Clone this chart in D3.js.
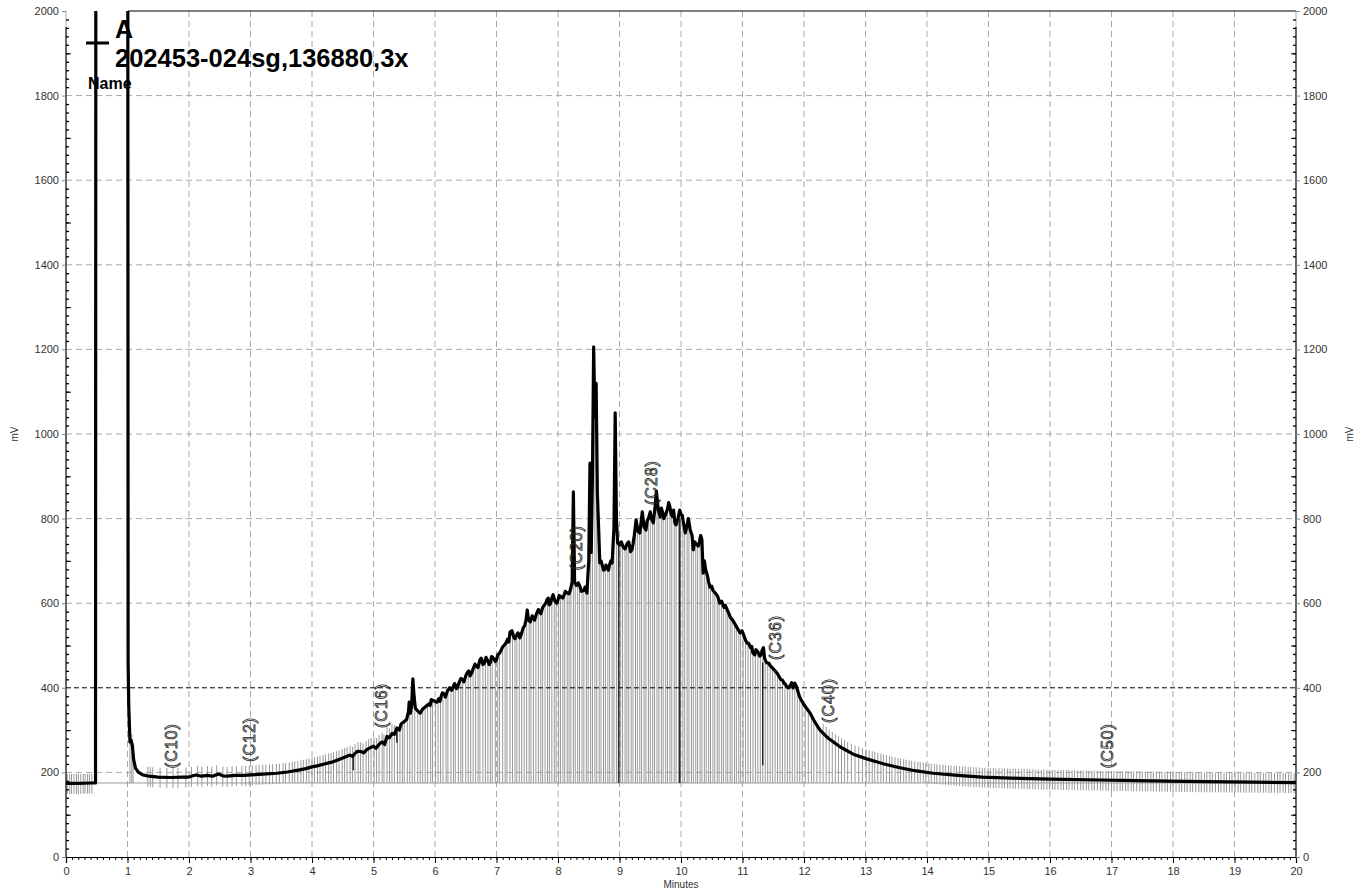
<!DOCTYPE html>
<html><head><meta charset="utf-8">
<script src="https://cdn.jsdelivr.net/npm/d3@7"></script>
<style>body{margin:0;background:#fff}svg{display:block}</style>
</head><body>
<script>
// ---- data ----
const traceTime = [0.00,0.20,0.40,0.48,0.485,1.005,1.01,1.02,1.04,1.06,1.08,1.10,1.13,1.18,1.25,1.35,1.5,1.7,1.9,2.0,2.06,2.12,2.2,2.3,2.38,2.48,2.55,2.62,2.75,2.9,3.0,3.2,3.43,3.6,3.8,3.9,4.0,4.1,4.2,4.34,4.45,4.55,4.62,4.7,4.8,4.89,5.0,5.1,5.22,5.3,5.38,5.45,5.5,5.54,5.57,5.58,5.6,5.62,5.64,5.66,5.68,5.72,5.76,5.8,5.85,5.9,5.97,6.03,6.1,6.15,6.2,6.24,6.3,6.35,6.4,6.45,6.52,6.57,6.62,6.67,6.73,6.78,6.85,6.9,6.95,7.0,7.05,7.1,7.15,7.22,7.28,7.33,7.38,7.43,7.48,7.5,7.52,7.55,7.6,7.65,7.7,7.75,7.8,7.82,7.86,7.9,7.95,8.0,8.05,8.1,8.15,8.2,8.23,8.25,8.27,8.3,8.36,8.42,8.47,8.5,8.52,8.54,8.56,8.58,8.6,8.62,8.64,8.66,8.68,8.72,8.76,8.8,8.84,8.88,8.91,8.93,8.95,8.97,9.0,9.06,9.12,9.2,9.24,9.27,9.3,9.33,9.37,9.4,9.43,9.47,9.5,9.55,9.58,9.6,9.63,9.66,9.7,9.75,9.8,9.82,9.86,9.9,9.95,10.0,10.02,10.07,10.1,10.15,10.2,10.25,10.3,10.34,10.36,10.4,10.47,10.52,10.58,10.63,10.7,10.75,10.8,10.88,10.96,11.02,11.08,11.13,11.17,11.22,11.28,11.32,11.36,11.4,11.45,11.5,11.56,11.62,11.68,11.72,11.78,11.85,11.9,11.93,12.0,12.1,12.18,12.26,12.4,12.59,12.8,13.02,13.3,13.56,13.8,14.1,14.5,14.9,15.5,16.0,16.8,17.63,18.5,19.3,20.0];
const traceMV = [174,174,175,175,2100,2100,460,360,272,276,262,230,210,200,194,191,189,188,189,189,192,194,191,193,191,196,192,191,193,193,194,196,198,201,206,209,213,216,220,225,231,237,241,245,249,254,262,268,285,292,305,315,320,326,345,366,340,360,421,380,352,345,340,350,356,362,370,366,380,385,392,400,404,398,415,420,435,428,445,452,466,455,466,460,470,466,482,497,505,532,520,525,518,540,560,584,560,556,565,575,580,590,600,608,596,612,605,608,615,620,624,631,650,863,650,642,638,630,624,700,931,720,900,1206,1040,1120,860,780,695,690,680,683,692,695,780,1050,800,742,738,733,740,726,760,797,770,766,816,780,773,800,816,790,830,865,820,804,815,810,838,827,805,790,800,810,808,766,785,773,726,740,745,750,671,680,638,630,620,600,590,585,567,550,530,525,505,495,482,490,475,489,470,459,452,445,435,420,410,402,406,411,392,378,360,340,318,300,280,260,243,232,220,211,204,198,193,189,186,184,182,180,178,177,176];
// extra detail points
const detailTime = [4.66,4.74,4.84,4.94,5.04,5.14,5.18,5.26,5.34,5.42,5.92,5.94,6.06,6.08,6.12,6.17,6.22,6.27,6.32,6.37,6.42,6.47,6.5,6.55,6.6,6.65,6.7,6.75,6.8,6.83,6.88,6.92,6.98,7.02,7.08,7.12,7.18,7.2,7.25,7.3,7.35,7.4,7.46,7.58,7.62,7.68,7.72,7.78,7.84,7.88,7.92,7.98,8.02,8.08,8.12,8.18,8.33,8.38,8.44,8.7,8.74,8.78,8.82,8.86,9.03,9.09,9.15,9.18,9.22,9.35,9.45,9.52,9.68,9.72,9.78,9.84,9.88,9.92,9.98,10.04,10.12,10.18,10.22,10.28,10.32,10.38,10.43,10.45,10.5,10.55,10.6,10.66,10.72,10.78,10.84,10.92,10.99,11.05,11.1,11.15,11.2,11.25,11.3,11.34,11.38,11.43,11.48,11.53,11.59,11.65,11.7,11.75,11.8,11.82,11.88,11.96,12.05];
const detailMV   = [238,250,246,258,257,272,266,282,290,300,358,372,374,368,388,378,396,394,410,404,422,414,428,440,436,456,448,470,458,472,455,474,462,478,490,500,515,508,535,516,530,525,548,570,560,585,575,596,612,600,620,600,618,612,628,622,648,628,638,700,678,690,678,700,745,728,745,722,740,790,795,800,825,800,822,810,820,785,820,790,800,760,745,735,760,700,665,650,640,625,615,605,595,575,560,540,535,512,505,498,478,485,478,495,462,458,448,440,428,418,408,400,412,400,402,370,350];

const dropA = [0.02,0.06,0.09,0.13,0.17,0.2,0.24,0.28,0.31,0.35,0.38,0.42];
const dropB = [1.04,1.07,1.09,1.33,1.37,1.41,1.53,1.64,1.74,1.82,1.95,2.04,2.14,2.21,2.3,2.37,2.45,2.55,2.62,2.7,2.77,2.86,2.92,2.98];
const dropC = [3.03,3.09,3.14,3.2,3.25,3.31,3.36,3.42,3.47,3.53,3.57,3.63,3.68,3.72,3.77,3.82,3.86,3.91,3.95,4.0,4.04,4.09,4.13,4.18,4.22,4.27,4.31,4.35,4.4,4.44,4.49,4.53,4.57,4.62,4.66,4.7,4.75,4.79,4.83,4.88,4.92,4.96];
const dropD = [5.01,5.05,5.09,5.14,5.17,5.22,5.26,5.3,5.34,5.39,5.43,5.47,5.5,5.55,5.59,5.63,5.67,5.72,5.76,5.8,5.84,5.88,5.93,5.96,6.01,6.05,6.09,6.13,6.18,6.21,6.26,6.3,6.33,6.38,6.42,6.45,6.5,6.54,6.58,6.62,6.66,6.7,6.73,6.78,6.82,6.86,6.9,6.93,6.98,7.02,7.05,7.1,7.14,7.17,7.22,7.26,7.3,7.33,7.37,7.41,7.45,7.49,7.53,7.56,7.6,7.64,7.68,7.72,7.75,7.79,7.83,7.86,7.9,7.94,7.97];
const dropE = [8.01,8.04,8.08,8.11,8.15,8.18,8.21,8.25,8.28,8.32,8.35,8.39,8.42,8.46,8.49,8.53,8.56,8.6,8.63,8.67,8.7,8.74,8.77,8.81,8.84,8.88,8.91,8.95,8.98,9.02,9.05,9.09,9.12,9.15,9.19,9.22,9.26,9.29,9.33,9.36,9.4,9.43,9.47,9.5,9.54,9.57,9.61,9.64,9.68,9.71,9.75,9.78,9.82,9.85,9.89,9.92,9.96,9.99,10.03,10.06,10.1,10.13,10.17,10.2,10.24,10.27,10.31,10.34,10.38,10.41,10.45,10.48,10.52,10.55,10.59,10.62,10.66,10.69,10.73,10.76,10.8,10.83,10.87,10.9,10.94,10.97];
const dropF = [11.01,11.05,11.09,11.13,11.17,11.21,11.25,11.29,11.33,11.37,11.41,11.45,11.49,11.53,11.57,11.61,11.65,11.69,11.73,11.77,11.81,11.85,11.89,11.93,11.97,12.02,12.07,12.12,12.16,12.21,12.26,12.31,12.36,12.41,12.46,12.51,12.56,12.61,12.66,12.71,12.77,12.83,12.89,12.95];
const dropG = [13.01,13.06,13.11,13.15,13.2,13.25,13.29,13.34,13.39,13.43,13.48,13.53,13.57,13.62,13.66,13.71,13.75,13.8,13.85,13.89,13.94,13.98,14.03,14.07,14.12,14.16,14.21,14.26,14.3,14.35,14.39,14.44,14.48,14.53,14.58,14.62,14.67,14.71,14.76,14.8,14.85,14.9,14.94,14.99,15.03,15.08,15.12,15.17,15.22,15.26,15.31,15.35,15.4,15.44,15.49,15.54,15.58,15.63,15.67,15.72,15.76,15.81,15.86,15.9,15.95,15.99,16.04,16.08,16.13,16.18,16.22,16.27,16.31,16.36,16.4,16.45,16.5,16.54,16.59,16.63,16.68,16.72,16.77,16.82,16.86,16.91,16.95,17.0,17.04,17.09,17.14,17.18,17.23,17.27,17.32,17.36,17.41,17.46,17.5,17.55,17.59,17.64,17.68,17.73,17.78,17.82,17.87,17.91,17.96,18.0,18.05,18.1,18.14,18.19,18.23,18.28,18.32,18.37,18.42,18.46,18.51,18.55,18.6,18.64,18.69,18.74,18.78,18.83,18.87,18.92,18.96,19.01,19.06,19.1,19.15,19.19,19.24,19.28,19.33,19.38,19.42,19.47,19.51,19.56,19.6,19.65,19.7,19.74,19.79,19.83,19.88,19.92,19.97];

const blackTime = [4.67,5.38,8.99,9.98,11.33];
const blackLo   = [205,270,175,175,217];
const blackHi   = [241,300,735,800,460];

const peakNames = ["(C10)","(C12)","(C16)","(C20)","(C28)","(C36)","(C40)","(C50)"];
const peakTime  = [1.72,2.99,5.14,8.31,9.53,11.54,12.41,16.94];
const peakMV    = [210,225,305,678,832,466,317,210];

const baselineMV = 175;
const yTicks = [0,200,400,600,800,1000,1200,1400,1600,1800,2000];
const xTicks = [0,1,2,3,4,5,6,7,8,9,10,11,12,13,14,15,16,17,18,19,20];
const titleLines = ["A","202453-024sg,136880,3x"];
const nameLabel = "Name";

// ---- drawing ----
const W=1365,H=896;
const L=66,R=1296,T=11,B=857;
const x=d3.scaleLinear().domain([0,20]).range([L,R]);
const y=d3.scaleLinear().domain([0,2000]).range([B,T]);
const svg=d3.select("body").append("svg").attr("width",W).attr("height",H)
  .style("font-family","'Liberation Sans',Arial,sans-serif");

svg.append("defs").append("clipPath").attr("id","clip")
  .append("rect").attr("x",L).attr("y",T).attr("width",R-L).attr("height",B-T);

// grid
const g=svg.append("g");
g.selectAll(".vg").data(xTicks.filter(d=>d>0&&d<20)).join("line")
  .attr("x1",d=>x(d)).attr("x2",d=>x(d)).attr("y1",T).attr("y2",B)
  .attr("stroke","#a8a8a8").attr("stroke-dasharray","6,4");
g.selectAll(".hg").data(yTicks.filter(d=>d>0&&d<2000&&d!==400)).join("line")
  .attr("x1",L).attr("x2",R).attr("y1",d=>y(d)).attr("y2",d=>y(d))
  .attr("stroke","#a8a8a8").attr("stroke-dasharray","6,4");
g.append("line").attr("x1",L).attr("x2",R).attr("y1",y(baselineMV)).attr("y2",y(baselineMV))
  .attr("stroke","#999").attr("stroke-width",1);

// trace (main + detail points, merged in time order)
const trace=traceTime.map((t,i)=>({t,v:traceMV[i]}))
  .concat(detailTime.map((t,i)=>({t,v:detailMV[i]})))
  .sort((a,b)=>a.t-b.t);
const bis=d3.bisector(d=>d.t).left;
function traceAt(t){
  let i=bis(trace,t); if(i<=0) return trace[0].v; if(i>=trace.length) return trace[trace.length-1].v;
  const a=trace[i-1],b=trace[i]; return a.v+(b.v-a.v)*(t-a.t)/(b.t-a.t);
}

// drop lines
const drops=[...dropA,...dropB,...dropC,...dropD,...dropE,...dropF,...dropG];
const dl=svg.append("g").attr("clip-path","url(#clip)");
dl.selectAll("line").data(drops).join("line")
  .attr("x1",d=>x(d)).attr("x2",d=>x(d))
  .attr("y1",d=>{const v=traceAt(d);return y(Math.min(baselineMV,v-25));})
  .attr("y2",d=>{const v=traceAt(d);return y(v<300?v+22:v-4);})
  .attr("stroke","#999").attr("stroke-width",1);

// 400 dashed black line
svg.append("line").attr("x1",L).attr("x2",R).attr("y1",y(400)).attr("y2",y(400))
  .attr("stroke","#000").attr("stroke-dasharray","5,3");

// black drop lines
dl.selectAll(".bk").data(blackTime).join("line")
  .attr("x1",d=>x(d)).attr("x2",d=>x(d))
  .attr("y1",(d,i)=>y(blackLo[i])).attr("y2",(d,i)=>y(blackHi[i]))
  .attr("stroke","#000").attr("stroke-width",1.2);

svg.append("path").attr("clip-path","url(#clip)").datum(trace)
  .attr("d",d3.line().x(d=>x(d.t)).y(d=>y(d.v)))
  .attr("fill","none").attr("stroke","#000").attr("stroke-width",3.2).attr("stroke-linejoin","round");

// peak labels
svg.selectAll(".pl").data(peakNames).join("text")
  .attr("transform",(d,i)=>`translate(${x(peakTime[i])+5},${y(peakMV[i])}) rotate(-90)`)
  .attr("text-anchor","start").attr("font-size",16)
  .attr("fill","none").attr("stroke","#222").attr("stroke-width",0.8)
  .attr("letter-spacing",1).text(d=>d);

// frame
svg.append("line").attr("x1",128).attr("x2",R).attr("y1",T).attr("y2",T).attr("stroke","#000").attr("stroke-width",1.2);
svg.append("line").attr("x1",L).attr("x2",L).attr("y1",T).attr("y2",27).attr("stroke","#aaa");
svg.append("line").attr("x1",R).attr("x2",R).attr("y1",T).attr("y2",27).attr("stroke","#aaa");
svg.append("line").attr("x1",L).attr("x2",L).attr("y1",27).attr("y2",B).attr("stroke","#000").attr("stroke-width",1.2);
svg.append("line").attr("x1",R).attr("x2",R).attr("y1",27).attr("y2",B).attr("stroke","#000").attr("stroke-width",1.2);

// x axis
const xa=svg.append("g").attr("transform",`translate(0,${B})`)
  .call(d3.axisBottom(x).tickValues(xTicks).tickSize(6).tickPadding(4).tickFormat(d3.format("d")));
const xm=svg.append("g").attr("transform",`translate(0,${B})`)
  .call(d3.axisBottom(x).tickValues(d3.range(0,20.001,0.1)).tickSize(3).tickFormat(""));
xm.select(".domain").remove();
[xa,xm].forEach(a=>{a.select(".domain").attr("stroke","#000").attr("stroke-width",1.2);
  a.selectAll("text").attr("font-size",11).attr("fill","#333").style("font-family","'Liberation Sans',Arial,sans-serif");});

// y axes
function yAxes(side){
  const pos = side==="left"?L:R;
  const major = side==="left"?d3.axisLeft(y):d3.axisRight(y);
  const ga=svg.append("g").attr("transform",`translate(${pos},0)`)
    .call(major.tickValues(yTicks).tickSize(4).tickPadding(3).tickFormat(d3.format("d")));
  ga.select(".domain").remove();
  ga.selectAll("line").attr("stroke","#888");
  ga.selectAll("text").attr("font-size",11).attr("fill","#333").style("font-family","'Liberation Sans',Arial,sans-serif");
  const minorAx = side==="left"?d3.axisRight(y):d3.axisLeft(y);
  const gm=svg.append("g").attr("transform",`translate(${pos},0)`)
    .call(minorAx.tickValues(d3.range(20,2000,20).filter(v=>v%200!==0)).tickSize(3).tickFormat(""));
  gm.select(".domain").remove();
  gm.selectAll("line").attr("stroke","#000").attr("stroke-width",1.3);
  const gm2=svg.append("g").attr("transform",`translate(${pos},0)`)
    .call(minorAx.tickValues(d3.range(100,2000,200)).tickSize(5).tickFormat(""));
  gm2.select(".domain").remove();
  gm2.selectAll("line").attr("stroke","#000").attr("stroke-width",1);
}
yAxes("left"); yAxes("right");

// axis titles
svg.append("text").attr("x",(L+R)/2).attr("y",888).attr("text-anchor","middle")
  .attr("font-size",10).attr("fill","#333").text("Minutes");
svg.append("text").attr("transform",`translate(18,${(T+B)/2}) rotate(-90)`).attr("text-anchor","middle")
  .attr("font-size",10).attr("fill","#333").text("mV");
svg.append("text").attr("transform",`translate(1353,${(T+B)/2}) rotate(-90)`).attr("text-anchor","middle")
  .attr("font-size",10).attr("fill","#333").text("mV");

// legend / title
svg.append("line").attr("x1",86).attr("x2",109).attr("y1",43).attr("y2",43).attr("stroke","#000").attr("stroke-width",3);
svg.append("text").attr("x",115).attr("y",38).attr("font-size",25).attr("font-weight","bold").attr("fill","#000").text(titleLines[0]);
svg.append("text").attr("x",115).attr("y",67).attr("font-size",25.5).attr("font-weight","bold").attr("fill","#000").text(titleLines[1]);
svg.append("text").attr("x",88).attr("y",89).attr("font-size",16).attr("font-weight","bold").attr("fill","#000").text(nameLabel);
</script>
</body></html>
